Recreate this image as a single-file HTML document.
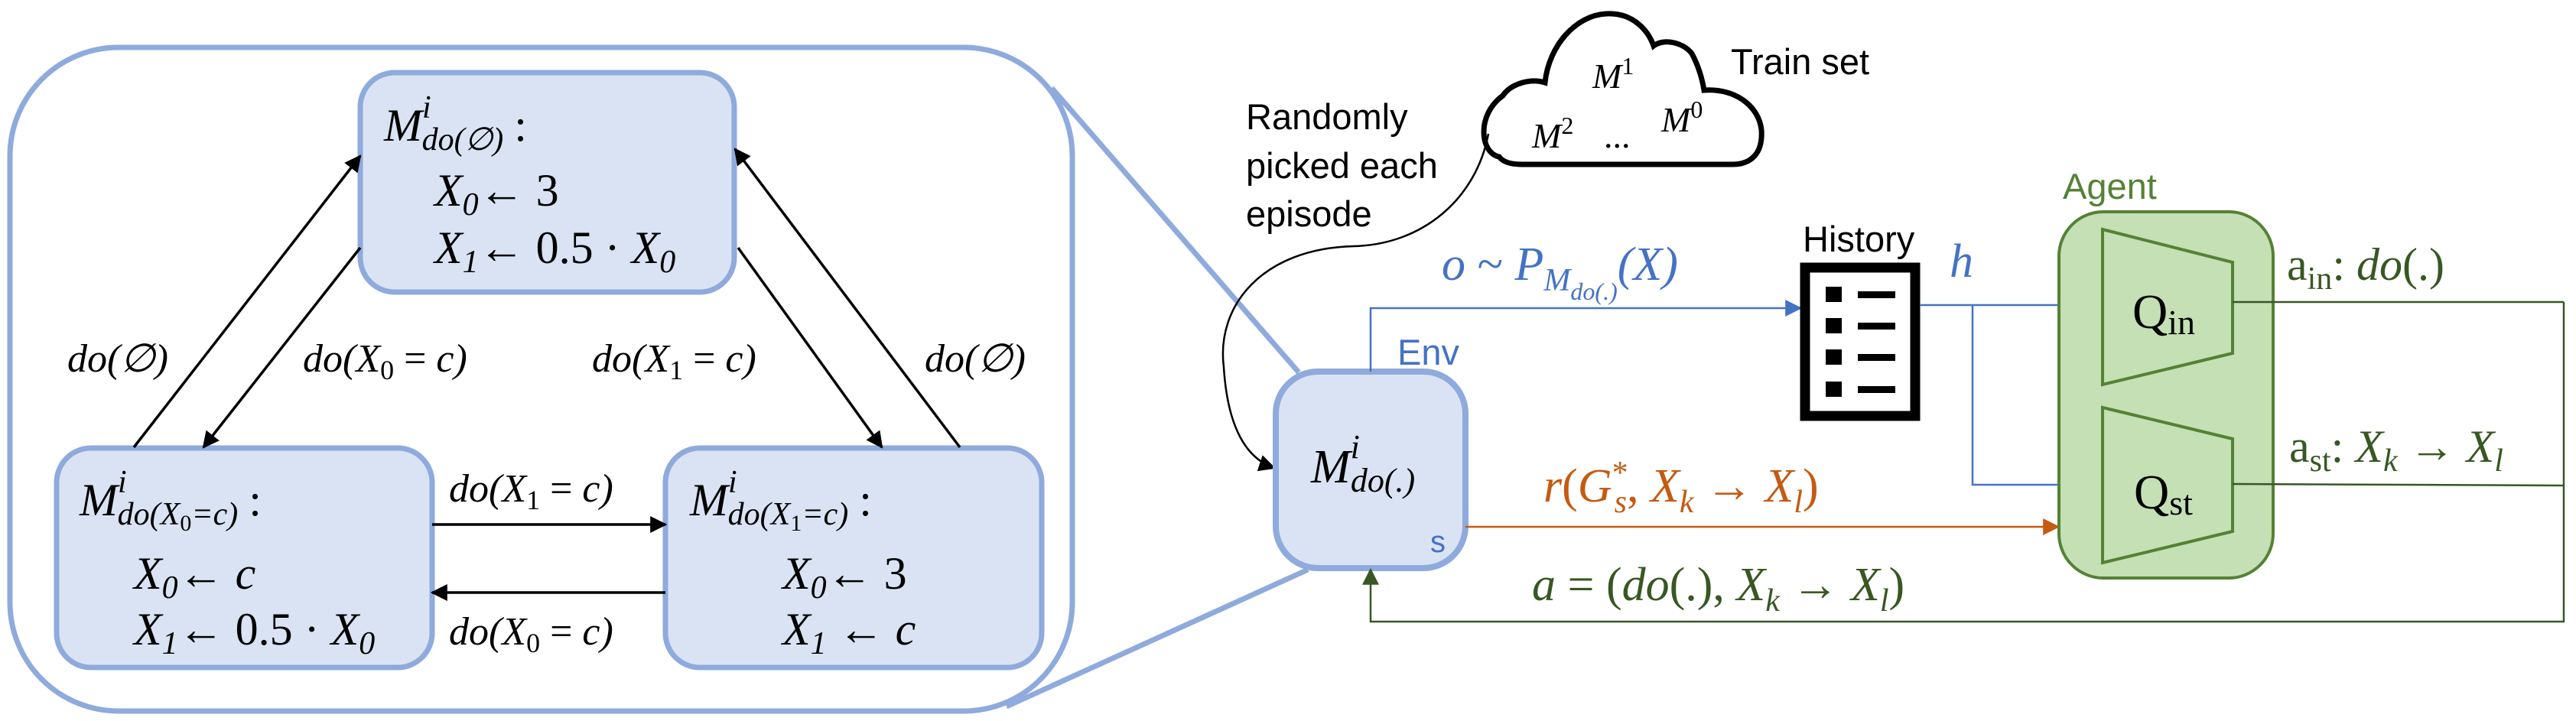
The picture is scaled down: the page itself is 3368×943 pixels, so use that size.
<!DOCTYPE html>
<html><head><meta charset="utf-8"><style>
html,body{margin:0;padding:0;background:#fff;}
svg{display:block;}
.m{font-family:"Liberation Serif",serif;font-style:italic;}
.r{font-family:"Liberation Serif",serif;font-style:normal;}
.s{font-family:"Liberation Sans",sans-serif;}
</style></head><body>
<svg width="3368" height="943" viewBox="0 0 3368 943" xmlns="http://www.w3.org/2000/svg">
<defs>
<marker id="akb" viewBox="0 0 10 10" refX="9" refY="5" markerWidth="22" markerHeight="22" orient="auto" markerUnits="userSpaceOnUse"><path d="M0,0 L10,5 L0,10 z" fill="#000"/></marker>
<marker id="ab" viewBox="0 0 10 10" refX="9" refY="5" markerWidth="22" markerHeight="22" orient="auto" markerUnits="userSpaceOnUse"><path d="M0,0 L10,5 L0,10 z" fill="#4472c4"/></marker>
<marker id="ao" viewBox="0 0 10 10" refX="9" refY="5" markerWidth="22" markerHeight="22" orient="auto" markerUnits="userSpaceOnUse"><path d="M0,0 L10,5 L0,10 z" fill="#c55a11"/></marker>
<marker id="ag" viewBox="0 0 10 10" refX="9" refY="5" markerWidth="22" markerHeight="22" orient="auto" markerUnits="userSpaceOnUse"><path d="M0,0 L10,5 L0,10 z" fill="#385723"/></marker>
</defs>

<rect x="13" y="62" width="1389" height="868" rx="142" fill="none" stroke="#8faadc" stroke-width="7"/>
<line x1="1375" y1="115" x2="1698" y2="487" stroke="#8faadc" stroke-width="7"/>
<line x1="1316" y1="924" x2="1710" y2="745" stroke="#8faadc" stroke-width="7"/>

<rect x="471" y="95" width="489" height="287" rx="45" fill="#dae3f3" stroke="#8faadc" stroke-width="7"/>
<rect x="74" y="586" width="491" height="287" rx="45" fill="#dae3f3" stroke="#8faadc" stroke-width="7"/>
<rect x="870" y="586" width="492" height="287" rx="45" fill="#dae3f3" stroke="#8faadc" stroke-width="7"/>

<g class="m" font-size="60" fill="#000">
<text x="502" y="184">M<tspan font-size="42" dy="-30">i</tspan><tspan font-size="42" dx="-12" dy="42">do(∅)</tspan><tspan dy="-12" class="r" dx="14">:</tspan></text>
<text x="568" y="269">X<tspan font-size="42" dy="12">0</tspan><tspan dy="-12" class="r">← 3</tspan></text>
<text x="568" y="344">X<tspan font-size="42" dy="12">1</tspan><tspan dy="-12" class="r">← 0.5 · </tspan>X<tspan font-size="42" dy="12">0</tspan></text>

<text x="104" y="674">M<tspan font-size="42" dy="-30">i</tspan><tspan font-size="42" dx="-12" dy="42">do(X</tspan><tspan font-size="30" dy="8" class="r">0</tspan><tspan font-size="42" dy="-8">=c)</tspan><tspan dy="-12" class="r" dx="14">:</tspan></text>
<text x="175" y="770">X<tspan font-size="42" dy="12">0</tspan><tspan dy="-12" class="r">← </tspan>c</text>
<text x="175" y="843">X<tspan font-size="42" dy="12">1</tspan><tspan dy="-12" class="r">← 0.5 · </tspan>X<tspan font-size="42" dy="12">0</tspan></text>

<text x="902" y="674">M<tspan font-size="42" dy="-30">i</tspan><tspan font-size="42" dx="-12" dy="42">do(X</tspan><tspan font-size="30" dy="8" class="r">1</tspan><tspan font-size="42" dy="-8">=c)</tspan><tspan dy="-12" class="r" dx="14">:</tspan></text>
<text x="1023" y="770">X<tspan font-size="42" dy="12">0</tspan><tspan dy="-12" class="r">← 3</tspan></text>
<text x="1023" y="843">X<tspan font-size="42" dy="12">1</tspan><tspan dy="-12" class="r"> ← </tspan>c</text>
</g>

<g stroke="#000" stroke-width="3.5" fill="none">
<line x1="175" y1="585" x2="471" y2="204" marker-end="url(#akb)"/>
<line x1="471" y1="324" x2="266" y2="585" marker-end="url(#akb)"/>
<line x1="965" y1="324" x2="1153" y2="585" marker-end="url(#akb)"/>
<line x1="1255" y1="585" x2="961" y2="195" marker-end="url(#akb)"/>
<line x1="565" y1="686" x2="870" y2="686" marker-end="url(#akb)"/>
<line x1="870" y1="775" x2="565" y2="775" marker-end="url(#akb)"/>
</g>
<g class="m" font-size="52" fill="#000">
<text x="88" y="486">do(∅)</text>
<text x="396" y="486">do(X<tspan font-size="36" dy="10" class="r">0</tspan><tspan dy="-10" class="r"> = </tspan>c)</text>
<text x="774" y="486">do(X<tspan font-size="36" dy="10" class="r">1</tspan><tspan dy="-10" class="r"> = </tspan>c)</text>
<text x="1209" y="486">do(∅)</text>
<text x="587" y="656">do(X<tspan font-size="36" dy="10" class="r">1</tspan><tspan dy="-10" class="r"> = </tspan>c)</text>
<text x="587" y="843">do(X<tspan font-size="36" dy="10" class="r">0</tspan><tspan dy="-10" class="r"> = </tspan>c)</text>
</g>

<path d="M1960,205 C1935,200 1930,150 1965,125 C1975,110 2000,102 2020,108 C2025,60 2060,20 2100,18 C2135,16 2155,40 2162,60 C2175,50 2200,55 2212,70 C2220,85 2225,100 2228,118 C2270,115 2300,140 2303,170 C2305,200 2290,215 2265,215 L1990,215 C1975,215 1965,212 1960,205 Z" fill="#fff" stroke="#000" stroke-width="7"/>
<g class="m" font-size="46" fill="#000">
<text x="2082" y="115">M<tspan class="r" font-size="32" dy="-18">1</tspan></text>
<text x="2003" y="193">M<tspan class="r" font-size="32" dy="-18">2</tspan></text>
<text x="2097" y="193" class="r">...</text>
<text x="2172" y="172">M<tspan class="r" font-size="32" dy="-18">0</tspan></text>
</g>
<text x="2263" y="97" class="s" font-size="47">Train set</text>
<g class="s" font-size="47">
<text x="1629" y="169">Randomly</text>
<text x="1629" y="233">picked each</text>
<text x="1629" y="296">episode</text>
</g>
<path d="M1946,175 C1930,260 1860,320 1770,322 C1650,325 1590,400 1600,480 C1605,560 1630,600 1666,612" fill="none" stroke="#000" stroke-width="2.5" marker-end="url(#akb)"/>

<rect x="1668" y="486" width="248" height="257" rx="55" fill="#dae3f3" stroke="#8faadc" stroke-width="8"/>
<text x="1714" y="631" class="m" font-size="62">M<tspan font-size="44" dy="-32">i</tspan><tspan font-size="44" dx="-12" dy="44">do(.)</tspan></text>
<text x="1870" y="722" class="s" font-size="40" fill="#4472c4">s</text>
<text x="1827" y="477" class="s" font-size="47" fill="#4472c4">Env</text>

<polyline points="1792,486 1792,403 2354,403" fill="none" stroke="#4472c4" stroke-width="2.5" marker-end="url(#ab)"/>
<text x="1885" y="366" class="m" font-size="62" fill="#4472c4">o <tspan class="r">~</tspan> P<tspan font-size="42" dy="14">M</tspan><tspan font-size="32" dy="12">do(.)</tspan><tspan dy="-26">(X)</tspan></text>

<text x="2357" y="329" class="s" font-size="47">History</text>
<rect x="2360" y="350" width="144" height="194" fill="#fff" stroke="#000" stroke-width="13"/>
<g fill="#000">
<rect x="2387" y="375" width="21" height="20"/><rect x="2429" y="381" width="49" height="9"/>
<rect x="2387" y="416" width="21" height="20"/><rect x="2429" y="422" width="49" height="9"/>
<rect x="2387" y="457" width="21" height="20"/><rect x="2429" y="463" width="49" height="9"/>
<rect x="2387" y="499" width="21" height="20"/><rect x="2429" y="505" width="49" height="9"/>
</g>

<text x="2549" y="362" class="m" font-size="62" fill="#4472c4">h</text>
<line x1="2510" y1="399" x2="2749" y2="399" stroke="#4472c4" stroke-width="2.5" marker-end="url(#ab)"/>
<polyline points="2579,399 2579,634 2749,634" fill="none" stroke="#4472c4" stroke-width="2.5" marker-end="url(#ab)"/>

<line x1="1916" y1="689" x2="2691" y2="689" stroke="#c55a11" stroke-width="2.5" marker-end="url(#ao)"/>
<text x="2018" y="656" class="m" font-size="62" fill="#c55a11">r<tspan class="r">(</tspan>G<tspan font-size="42" dy="-24" class="r">*</tspan><tspan font-size="42" dx="-18" dy="38">s</tspan><tspan dy="-14" class="r">, </tspan>X<tspan font-size="42" dy="14">k</tspan><tspan dy="-14" class="r"> → </tspan>X<tspan font-size="42" dy="14">l</tspan><tspan dy="-14" class="r">)</tspan></text>

<text x="2697" y="260" class="s" font-size="47" fill="#548235">Agent</text>
<rect x="2692" y="277" width="280" height="479" rx="58" fill="#c5e0b4" stroke="#548235" stroke-width="4"/>
<polygon points="2749,300 2919,343 2919,462 2749,503" fill="none" stroke="#548235" stroke-width="4"/>
<polygon points="2749,533 2919,574 2919,695 2749,736" fill="none" stroke="#548235" stroke-width="4"/>
<text x="2788" y="429" class="r" font-size="64">Q<tspan font-size="46" dy="8">in</tspan></text>
<text x="2790" y="665" class="r" font-size="64">Q<tspan font-size="46" dy="8">st</tspan></text>

<g stroke="#385723" stroke-width="2.5" fill="none">
<line x1="2919" y1="395" x2="3352" y2="395"/>
<line x1="2919" y1="633" x2="3352" y2="635"/>
<polyline points="3352,395 3352,813 1792,813 1792,745" marker-end="url(#ag)"/>
</g>
<text x="2990" y="366" class="r" font-size="60" fill="#385723">a<tspan font-size="42" dy="12">in</tspan><tspan dy="-12">: </tspan><tspan class="m">do</tspan>(.)</text>
<text x="2993" y="604" class="r" font-size="60" fill="#385723">a<tspan font-size="42" dy="12">st</tspan><tspan dy="-12">: </tspan><tspan class="m">X</tspan><tspan class="m" font-size="42" dy="12">k</tspan><tspan dy="-12"> → </tspan><tspan class="m">X</tspan><tspan class="m" font-size="42" dy="12">l</tspan></text>
<text x="2003" y="785" class="m" font-size="62" fill="#385723">a <tspan class="r">= (</tspan>do<tspan class="r">(.), </tspan>X<tspan font-size="42" dy="14">k</tspan><tspan dy="-14" class="r"> → </tspan>X<tspan font-size="42" dy="14">l</tspan><tspan dy="-14" class="r">)</tspan></text>
</svg>
</body></html>
